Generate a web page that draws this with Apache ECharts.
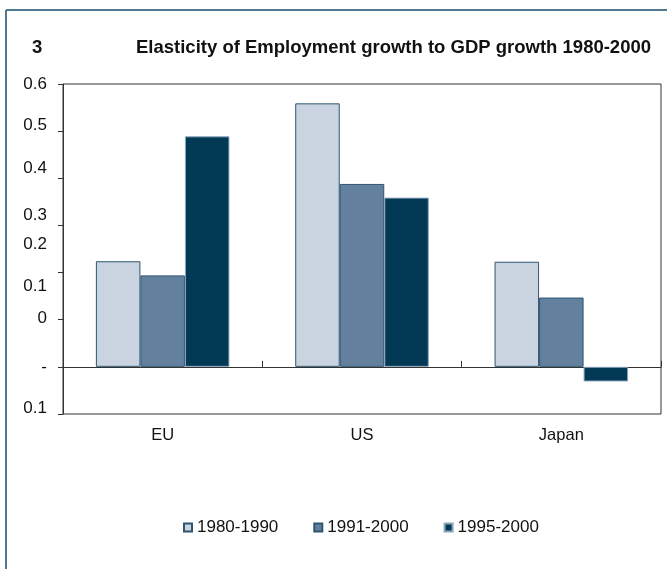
<!DOCTYPE html>
<html>
<head>
<meta charset="utf-8">
<script src="https://cdn.jsdelivr.net/npm/echarts@6/dist/echarts.min.js"></script>
<style>
  html, body { margin: 0; padding: 0; background: #fff; }
  #chart { width: 667px; height: 569px; }
</style>
</head>
<body>
<div id="chart"></div>
<script>
// Regions on the category axis
const regions = ['EU', 'US', 'Japan'];

// Elasticity of employment growth to GDP growth, per period
const period1980to1990 = [0.224, 0.559, 0.223];
const period1991to2000 = [0.194, 0.388, 0.147];
const period1995to2000 = [0.489, 0.359, -0.031];

// Value-axis tick labels as printed, with the value each one sits at
const yTickLabels = ['0.6', '0.5', '0.4', '0.3', '0.2', '0.1', '0', '-', '0.1'];
const yTickLabelAt = [0.6, 0.513, 0.421, 0.322, 0.259, 0.170, 0.104, 0.0, -0.087];

const seriesNames = ['1980-1990', '1991-2000', '1995-2000'];
const fills = ['#c9d4e0', '#63819e', '#023a56'];
const edges = ['#2e5571', '#2e5571', '#8aa5bb'];
const values = [period1980to1990, period1991to2000, period1995to2000];

const font = 'Liberation Sans, Arial, sans-serif';
const frameColor = '#4f7893';

const chart = echarts.init(document.getElementById('chart'), null, { renderer: 'canvas' });

chart.setOption({
  animation: false,
  backgroundColor: '#ffffff',
  title: [
    {
      text: '3', left: 27, top: 33,
      textStyle: { fontFamily: font, fontSize: 18.5, fontWeight: 'bold', color: '#111' }
    },
    {
      text: 'Elasticity of Employment growth to GDP growth 1980-2000', left: 131, top: 33,
      textStyle: { fontFamily: font, fontSize: 18.5, fontWeight: 'bold', color: '#111' }
    }
  ],
  grid: {
    left: 63, right: 6, top: 84, bottom: 155,
    show: true, borderColor: '#333', borderWidth: 1, backgroundColor: 'transparent'
  },
  legend: {
    left: 178, top: 514,
    icon: 'rect', itemWidth: 8, itemHeight: 8, itemGap: 35,
    textStyle: { fontFamily: font, fontSize: 17, color: '#111' },
    data: seriesNames
  },
  xAxis: [
    {
      type: 'category', data: regions, position: 'bottom',
      axisLine: { show: false }, axisTick: { show: false },
      axisLabel: { fontFamily: font, fontSize: 16.5, color: '#111', margin: 13 }
    },
    {
      type: 'category', data: regions,
      axisLine: { show: true, onZero: true, onZeroAxisIndex: 0, lineStyle: { color: '#333', width: 1 } },
      axisTick: { show: true, inside: false, length: 6, lineStyle: { color: '#333' } },
      axisLabel: { show: false }
    }
  ],
  yAxis: {
    type: 'value', min: -0.1, max: 0.6, interval: 0.1,
    splitLine: { show: false },
    axisLine: { show: true, lineStyle: { color: '#333' } },
    axisTick: { show: true, length: 5, lineStyle: { color: '#333' } },
    axisLabel: {
      fontFamily: font, fontSize: 17, color: '#111', margin: 16,
      customValues: yTickLabelAt,
      formatter: function (v) {
        let best = 0;
        for (let i = 1; i < yTickLabelAt.length; i++) {
          if (Math.abs(yTickLabelAt[i] - v) < Math.abs(yTickLabelAt[best] - v)) best = i;
        }
        return yTickLabels[best];
      }
    }
  },
  series: seriesNames.map((name, i) => ({
    name: name,
    type: 'bar',
    xAxisIndex: 0,
    data: values[i],
    barGap: '0%',
    barCategoryGap: '33%',
    itemStyle: { color: fills[i], borderColor: edges[i], borderWidth: 1 }
  })),
  graphic: [
    { type: 'line', shape: { x1: 6, y1: 10, x2: 667, y2: 10 }, style: { stroke: frameColor, lineWidth: 2 } },
    { type: 'line', shape: { x1: 6, y1: 10, x2: 6, y2: 569 }, style: { stroke: frameColor, lineWidth: 2 } }
  ]
});
</script>
</body>
</html>
